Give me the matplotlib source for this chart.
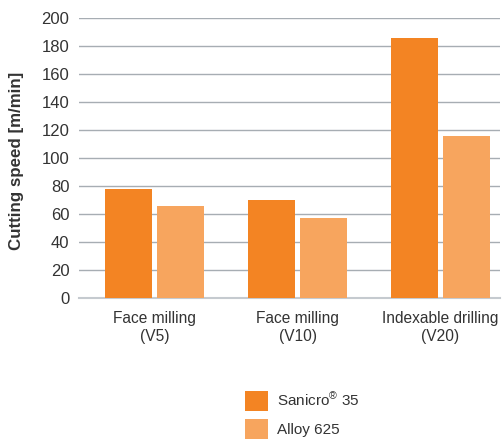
import matplotlib.pyplot as plt
from matplotlib.patches import Patch
import numpy as np

categories = ["Face milling\n(V5)", "Face milling\n(V10)", "Indexable drilling\n(V20)"]
sanicro = [78, 70, 186]
alloy = [66, 57, 116]
series_names = ["Sanicro$^{®}$ 35", "Alloy 625"]

plt.rcParams['font.family'] = ['Liberation Sans', 'DejaVu Sans']
plt.rcParams['mathtext.fontset'] = 'custom'
plt.rcParams['mathtext.rm'] = 'Liberation Sans'
plt.rcParams['mathtext.it'] = 'Liberation Sans'
plt.rcParams['mathtext.default'] = 'regular'

color_san = '#f38423'
color_alloy = '#f7a55e'
grid_col = '#a7adb3'
text_col = '#333333'

fig = plt.figure(figsize=(5.04, 4.41), dpi=100)
ax = fig.add_axes([0.157, 0.324, 0.835, 0.635])

x = np.arange(len(categories))
width = 0.329
off = 0.182
ax.bar(x - off, sanicro, width, color=color_san, zorder=3)
ax.bar(x + off, alloy, width, color=color_alloy, zorder=3)

ax.set_xlim(-0.528, 2.416)
ax.set_ylim(0, 200)
ax.set_yticks(range(0, 201, 20))
ax.yaxis.grid(True, color=grid_col, linewidth=1, zorder=0)
ax.set_axisbelow(True)
for s in ['top', 'right', 'left']:
    ax.spines[s].set_visible(False)
ax.spines['bottom'].set_color('#c5cacf')
ax.spines['bottom'].set_linewidth(1.5)

ax.set_xticks(x)
ax.set_xticklabels(categories, fontsize=11.2, color=text_col, linespacing=1.3)
ax.tick_params(axis='x', length=0, pad=9)
ax.tick_params(axis='y', length=0, pad=7, labelsize=12, labelcolor=text_col)
ax.set_ylabel('Cutting speed [m/min]', fontsize=12.2, fontweight='bold',
              color=text_col)
ax.yaxis.set_label_coords(-0.130, 0.49)

handles = [Patch(facecolor=color_san, edgecolor='none'),
           Patch(facecolor=color_alloy, edgecolor='none')]
fig.legend(handles, series_names, loc='lower left',
           bbox_to_anchor=(0.459, -0.026), frameon=False, fontsize=11,
           handlelength=1.5, handleheight=1.6, handletextpad=0.6,
           labelspacing=0.55, labelcolor=text_col)

fig.savefig('out.png', dpi=100)
